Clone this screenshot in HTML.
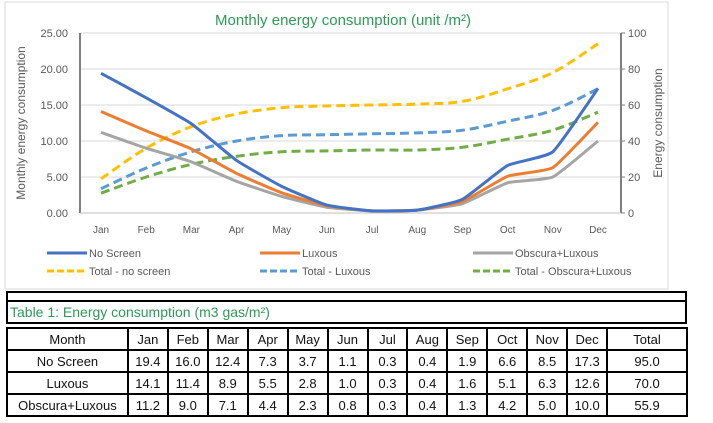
<!DOCTYPE html>
<html><head><meta charset="utf-8"><style>
body{margin:0;background:#fff;font-family:"Liberation Sans",sans-serif;}
#wrap{position:relative;width:713px;height:423px;overflow:hidden;}
table{position:absolute;border-collapse:collapse;font-size:13px;}
td{border:2px solid #000;text-align:center;padding:0;height:20px;color:#111;}
</style></head><body>
<div id="wrap">
<svg id="chart" width="713" height="423" style="position:absolute;left:0;top:0">
<rect x="5" y="2" width="663" height="287" fill="#fff" stroke="#d9d9d9"/>
<text x="343" y="25" text-anchor="middle" font-size="15" fill="#2e9a56">Monthly energy consumption (unit /m²)</text>
<g id="grid"></g><g id="series"></g>
<text transform="translate(25,123) rotate(-90)" text-anchor="middle" font-size="12" fill="#595959">Monthly energy consumption</text>
<text transform="translate(662,123) rotate(-90)" text-anchor="middle" font-size="12" fill="#595959">Energy consumption</text>
<g id="legend" font-size="11" fill="#595959"></g>
</svg>
<div style="position:absolute;left:6px;top:291px;width:681px;height:10px;border:2px solid #000;border-bottom:none;box-sizing:border-box"></div>
<div style="position:absolute;left:6px;top:300px;width:681px;height:24px;border:2px solid #000;box-sizing:border-box;color:#2e9a56;font-size:14px;line-height:20px;padding-left:2px">Table 1: Energy consumption (m3 gas/m²)</div>
<table style="left:6px;top:327px;width:682px">
<colgroup><col style="width:121px"><col span="12" style="width:40px"><col style="width:80px"></colgroup>
<tr><td>Month</td><td>Jan</td><td>Feb</td><td>Mar</td><td>Apr</td><td>May</td><td>Jun</td><td>Jul</td><td>Aug</td><td>Sep</td><td>Oct</td><td>Nov</td><td>Dec</td><td>Total</td></tr>
<tr><td>No Screen</td><td>19.4</td><td>16.0</td><td>12.4</td><td>7.3</td><td>3.7</td><td>1.1</td><td>0.3</td><td>0.4</td><td>1.9</td><td>6.6</td><td>8.5</td><td>17.3</td><td>95.0</td></tr>
<tr><td>Luxous</td><td>14.1</td><td>11.4</td><td>8.9</td><td>5.5</td><td>2.8</td><td>1.0</td><td>0.3</td><td>0.4</td><td>1.6</td><td>5.1</td><td>6.3</td><td>12.6</td><td>70.0</td></tr>
<tr><td>Obscura+Luxous</td><td>11.2</td><td>9.0</td><td>7.1</td><td>4.4</td><td>2.3</td><td>0.8</td><td>0.3</td><td>0.4</td><td>1.3</td><td>4.2</td><td>5.0</td><td>10.0</td><td>55.9</td></tr>
</table>
</div>
<script>
const months=["Jan","Feb","Mar","Apr","May","Jun","Jul","Aug","Sep","Oct","Nov","Dec"];
const leftTicks=[0,5,10,15,20,25];
const rightTicks=[0,20,40,60,80,100];
const noScreen=[19.4,16.0,12.4,7.3,3.7,1.1,0.3,0.4,1.9,6.6,8.5,17.3];
const luxous=[14.1,11.4,8.9,5.5,2.8,1.0,0.3,0.4,1.6,5.1,6.3,12.6];
const obscura=[11.2,9.0,7.1,4.4,2.3,0.8,0.3,0.4,1.3,4.2,5.0,10.0];
const totalNoScreen=[19,36,48,55,58.5,59.5,60,60.5,62,69,78,94];
const totalLuxous=[13.5,25,34,40,43,43.5,44,44.5,46,51,57,69];
const totalObscura=[11,20,27,31.5,34,34.5,35,35,36.5,41,46,56];
const NS="http://www.w3.org/2000/svg";
const x0=101,x1=598,yTop=33,yBot=213;
const xs=i=>x0+(x1-x0)*i/11;
const yL=v=>yBot-(yBot-yTop)*v/25;
const yR=v=>yBot-(yBot-yTop)*v/100;
function mk(t,a,p){const e=document.createElementNS(NS,t);for(const k in a)e.setAttribute(k,a[k]);p.appendChild(e);return e;}
const grid=document.getElementById('grid');
leftTicks.forEach((v,i)=>{
 const l=mk('line',{x1:80,x2:621,y1:yL(v),y2:yL(v),stroke:'#d9d9d9'},grid);
 
 
 const t=mk('text',{x:68,y:yL(v)+4,'text-anchor':'end','font-size':11,fill:'#595959'},grid);t.textContent=v.toFixed(2);
 
 
});
rightTicks.forEach(v=>{
 const t=mk('text',{x:628,y:yR(v)+4,'font-size':11,fill:'#595959'},grid);t.textContent=v;
 
 
 mk('line',{x1:621,x2:625,y1:yR(v),y2:yR(v),stroke:'#7f7f7f'},grid);
});
mk('line',{x1:80,x2:80,y1:yTop,y2:yBot,stroke:'#7f7f7f','stroke-width':2},grid);
mk('line',{x1:621,x2:621,y1:yTop,y2:yBot,stroke:'#7f7f7f','stroke-width':2},grid);
mk('line',{x1:80,x2:621,y1:yBot,y2:yBot,stroke:'#bfbfbf'},grid);
months.forEach((m,i)=>{
 const t=mk('text',{x:xs(i),y:233,'text-anchor':'middle','font-size':10,fill:'#595959'},grid);t.textContent=m;
 
 
});
function smooth(pts,k){let d=`M${pts[0][0]},${pts[0][1]}`;
 for(let i=0;i<pts.length-1;i++){const p0=pts[i-1]||pts[i],p1=pts[i],p2=pts[i+1],p3=pts[i+2]||p2;
 d+=` C${p1[0]+(p2[0]-p0[0])/k},${p1[1]+(p2[1]-p0[1])/k} ${p2[0]-(p3[0]-p1[0])/k},${p2[1]-(p3[1]-p1[1])/k} ${p2[0]},${p2[1]}`;}return d;}
const sg=document.getElementById('series');
const defs=[
 [totalNoScreen,yR,'#ffc000',true,'line-total-no-screen'],
 [totalLuxous,yR,'#5b9bd5',true,'line-total-luxous'],
 [totalObscura,yR,'#70ad47',true,'line-total-obscura-luxous'],
 [obscura,yL,'#a5a5a5',false,'line-obscura-luxous'],
 [luxous,yL,'#ed7d31',false,'line-luxous'],
 [noScreen,yL,'#4472c4',false,'line-no-screen']];
defs.forEach(([d,f,c,dash,n])=>{
 const p=mk('path',{d:smooth(d.map((v,i)=>[xs(i),f(v)]),dash?6:14),fill:'none',stroke:c,'stroke-width':3,'stroke-dasharray':dash?'9 5':'none'},sg);
 
 
});
const lg=document.getElementById('legend');
const items=[['No Screen','#4472c4',false,47,253],['Luxous','#ed7d31',false,260,253],['Obscura+Luxous','#a5a5a5',false,473,253],
 ['Total - no screen','#ffc000',true,47,271],['Total - Luxous','#5b9bd5',true,260,271],['Total - Obscura+Luxous','#70ad47',true,473,271]];
items.forEach(([t,c,dash,x,y])=>{
 const g=mk('g',{},lg);
 
 
 mk('line',{x1:x,x2:x+40,y1:y,y2:y,stroke:c,'stroke-width':3,'stroke-dasharray':dash?'7 3':'none'},g);
 const tx=mk('text',{x:x+42,y:y+4},g);tx.textContent=t;
});
</script>
</body></html>
